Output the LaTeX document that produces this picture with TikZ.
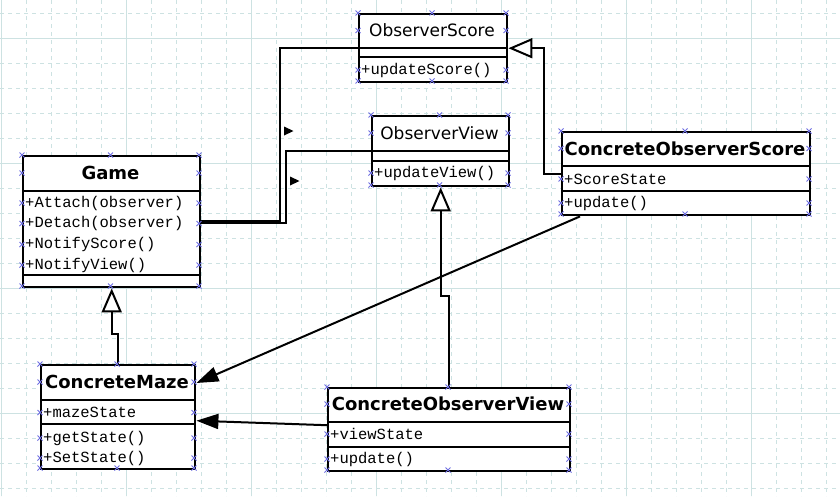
\documentclass[tikz,border=0pt]{standalone}
\usepackage{fontspec}
\setmainfont{DejaVu Sans}
\newfontfamily\umlmono{Liberation Mono}
\usetikzlibrary{arrows.meta,calc}

\definecolor{gridc}{RGB}{205,226,226}
\definecolor{handlec}{RGB}{110,110,225}

\tikzset{
  umlbox/.style={draw, line width=2.4pt, anchor=north west, inner sep=0pt, fill=white},
  sepline/.style={line width=2.4pt},
  clsname/.style={font=\fontsize{17}{20}\selectfont, inner sep=0pt},
  clsbold/.style={font=\fontsize{18}{20}\selectfont\bfseries, inner sep=0pt},
  member/.style={font=\fontsize{15.5}{18}\selectfont\umlmono, anchor=west, inner sep=0pt},
  link/.style={line width=2pt},
  assoc/.style={link, -{Triangle[length=22pt,width=15pt]}},
  inherit/.style={link, -{Triangle[length=24pt,width=20pt,fill=white]}},
  pics/hx/.style={code={\draw[handlec, line width=0.8pt]
      (-2.5,-2.5) -- (2.5,2.5) (-2.5,2.5) -- (2.5,-2.5);}},
}

\begin{document}
\begin{tikzpicture}[x=1pt, y=-1pt]
    \fill[white] (0,0) rectangle (840,496);
    \useasboundingbox (0,0) rectangle (840,496);
    % rejilla de fondo
    \foreach \gx in {1,26,...,826}
        \draw[gridc, line width=1pt, dash pattern=on 4pt off 4pt] (\gx,0) -- (\gx,496);
    \foreach \gy in {13,38,...,488}
        \draw[gridc, line width=1pt, dash pattern=on 4pt off 4pt] (0,\gy) -- (840,\gy);
    \foreach \gx in {1,126,...,751}
        \draw[gridc, line width=1pt] (\gx,0) -- (\gx,496);
    \foreach \gy in {38,163,288,413}
        \draw[gridc, line width=1pt] (0,\gy) -- (840,\gy);

    % clases
    \node[umlbox, minimum width=148pt, minimum height=68pt] (oscore) at (358,13) {};
    \draw[sepline] (358,48) -- (506,48) (358,57) -- (506,57);
    \node[clsname] (oscorename) at (432,30.5) {ObserverScore};
    \node[member] (oscoreupd) at (361,70) {+updateScore()};

    \node[umlbox, minimum width=137pt, minimum height=70pt] (oview) at (371,115) {};
    \draw[sepline] (371,151) -- (508,151) (371,161) -- (508,161);
    \node[clsname] (oviewname) at (439.5,133) {ObserverView};
    \node[member] (oviewupd) at (374,173) {+updateView()};

    \node[umlbox, minimum width=177pt, minimum height=131pt] (game) at (22,155) {};
    \draw[sepline] (22,191) -- (199,191) (22,275) -- (199,275);
    \node[clsbold] (gamename) at (110.5,173) {Game};
    \node[member] (gameattach) at (25,203) {+Attach(observer)};
    \node[member] (gamedetach) at (25,223.5) {+Detach(observer)};
    \node[member] (gamescore) at (25,244.5) {+NotifyScore()};
    \node[member] (gameview) at (25,265) {+NotifyView()};

    \node[umlbox, minimum width=248pt, minimum height=83pt] (cos) at (561,131) {};
    \draw[sepline] (561,166) -- (809,166) (561,191) -- (809,191);
    \node[clsbold] (cosname) at (685,148.5) {ConcreteObserverScore};
    \node[member] (cosstate) at (564,179) {+ScoreState};
    \node[member] (cosupd) at (564,203) {+update()};

    \node[umlbox, minimum width=154pt, minimum height=104pt] (cm) at (40,364) {};
    \draw[sepline] (40,400) -- (194,400) (40,424) -- (194,424);
    \node[clsbold] (cmname) at (117,382) {ConcreteMaze};
    \node[member] (cmstate) at (43,412.5) {+mazeState};
    \node[member] (cmget) at (43,438) {+getState()};
    \node[member] (cmset) at (43,458) {+SetState()};

    \node[umlbox, minimum width=242pt, minimum height=83pt] (cov) at (327,387) {};
    \draw[sepline] (327,422) -- (569,422) (327,447) -- (569,447);
    \node[clsbold] (covname) at (448,404) {ConcreteObserverView};
    \node[member] (covstate) at (330,434) {+viewState};
    \node[member] (covupd) at (330,459) {+update()};

    % asociaciones de Game con los observadores
    \draw[link] ($(game.east)+(0,-1)$) -- ++(79,0) |- (oscore.west);
    \draw[link] ($(game.east)+(0,1.3)$) -- ++(85,0) |- (oview.west);
    \fill (284,126.5) -- (293.5,131) -- (284,135.5) -- cycle;
    \fill (290,176.5) -- (299.5,181) -- (290,185.5) -- cycle;

    % herencias
    \draw[inherit] (cos.west) -- ++(-17,0) |- (oscore.east);
    \draw[inherit] (cov.north) -- ++(0,-91) -| (oview.south);
    \draw[inherit] (cm.north) -- ++(0,-30) -| (game.south);

    % dependencias hacia ConcreteMaze
    \coordinate (cosfoot) at ($(cos.south west)+(19,0)$);
    \coordinate (cmtop) at ($(cm.north east)+(0,19)$);
    \coordinate (covleft) at ($(cov.west)+(0,-4.5)$);
    \coordinate (cmmid) at ($(cm.east)+(0,3.5)$);
    \draw[assoc] (cosfoot) -- (cmtop);
    \draw[assoc] (covleft) -- (cmmid);

    % marcas de seleccion
    \foreach \y in {13,30.5,70,81} \path (358,\y) pic{hx} (506,\y) pic{hx};
    \path (432,13) pic{hx} (432,81) pic{hx};
    \foreach \y in {115,133,173,185} \path (371,\y) pic{hx} (508,\y) pic{hx};
    \path (439.5,115) pic{hx} (439.5,185) pic{hx};
    \foreach \y in {155,173,203,223.5,244.5,265,286} \path (22,\y) pic{hx} (199,\y) pic{hx};
    \path (110.5,155) pic{hx} (110.5,286) pic{hx};
    \foreach \y in {131,148.5,179,203,214} \path (561,\y) pic{hx} (809,\y) pic{hx};
    \path (685,131) pic{hx} (685,214) pic{hx};
    \foreach \y in {364,382,412.5,438,458,468} \path (40,\y) pic{hx} (194,\y) pic{hx};
    \path (117,364) pic{hx} (117,468) pic{hx};
    \foreach \y in {387,404,434,459,470} \path (327,\y) pic{hx} (569,\y) pic{hx};
    \path (448,387) pic{hx} (448,470) pic{hx};
\end{tikzpicture}
\end{document}
